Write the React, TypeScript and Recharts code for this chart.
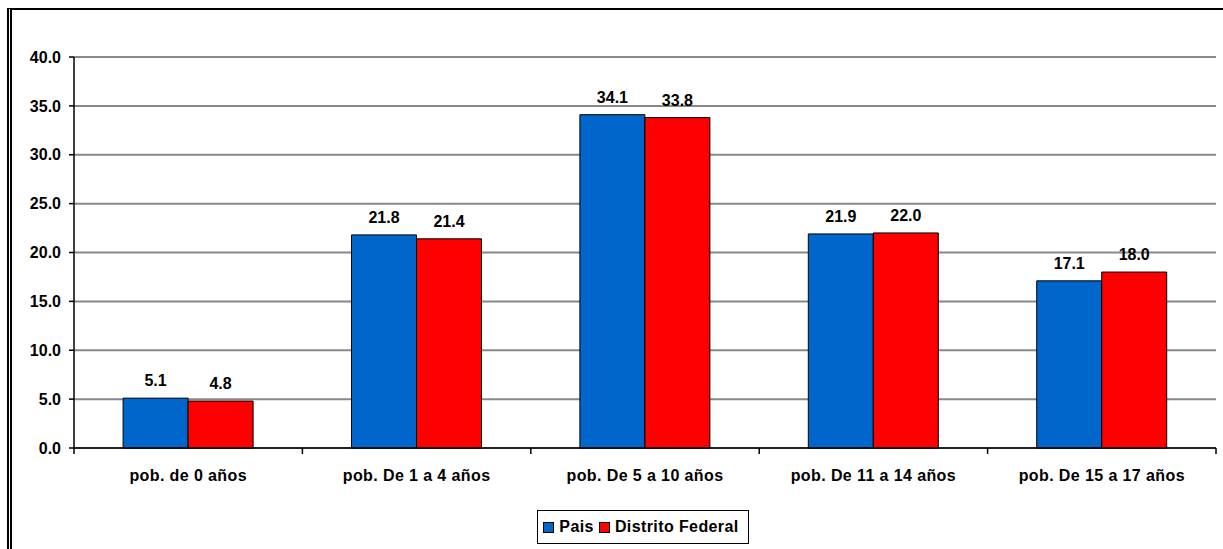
import { BarChart, Bar, XAxis, YAxis, CartesianGrid, Legend, LabelList } from 'recharts';

const categories = ['pob. de 0 años', 'pob. De 1 a 4 años', 'pob. De 5 a 10 años', 'pob. De 11 a 14 años', 'pob. De 15 a 17 años'];
const pais = [5.1, 21.8, 34.1, 21.9, 17.1];
const distritoFederal = [4.8, 21.4, 33.8, 22.0, 18.0];
const yTicks = [0, 5, 10, 15, 20, 25, 30, 35, 40];

const data = categories.map((name, i) => ({ name, pais: pais[i], df: distritoFederal[i] }));

const W = 1223;
const H = 549;
const margin = { top: 57, right: 7, bottom: 5, left: 0 };
const yAxisWidth = 74;
const font = 'Liberation Sans, Arial, sans-serif';

const bandWidth = (W - margin.left - margin.right - yAxisWidth) / categories.length;

function CategoryTick(props: any) {
  const { x, y, payload, index } = props;
  const left = x - bandWidth / 2;
  return (
    <g>
      <line x1={left} y1={y} x2={left} y2={y + 6} stroke="#000" strokeWidth={1.5} />
      {index === categories.length - 1 && (
        <line x1={left + bandWidth} y1={y} x2={left + bandWidth} y2={y + 6} stroke="#000" strokeWidth={1.5} />
      )}
      <text x={x} y={y + 33} textAnchor="middle" fontFamily={font} fontWeight="bold" fontSize={16} letterSpacing={0.4} fill="#000">
        {payload.value}
      </text>
    </g>
  );
}

function LegendBox() {
  const item = (color: string, label: string) => (
    <span style={{ display: 'inline-flex', alignItems: 'center', marginRight: 5 }}>
      <span style={{ width: 9, height: 9, background: color, border: '1px solid #000', marginRight: 5 }} />
      {label}
    </span>
  );
  return (
    <div style={{ display: 'flex', justifyContent: 'center', paddingLeft: yAxisWidth - 4 }}>
      <div
        style={{
          border: '1.5px solid #000',
          height: 34,
          padding: '0 4px 0 5px',
          display: 'flex',
          alignItems: 'center',
          fontFamily: font,
          fontWeight: 'bold',
          fontSize: 16,
          letterSpacing: 0.4,
          color: '#000',
          boxSizing: 'border-box',
        }}
      >
        {item('#0066CC', 'Pais')}
        {item('#FF0000', 'Distrito Federal')}
      </div>
    </div>
  );
}

export default function App() {
  return (
    <div style={{ position: 'absolute', left: 0, top: 0, width: W, height: H, background: '#fff', overflow: 'hidden' }}>
      <div
        style={{
          position: 'absolute',
          left: 7,
          top: 8,
          width: W,
          height: H,
          borderTop: '2px solid #000',
          borderLeft: '5px double #000',
        }}
      />
      <BarChart width={W} height={H} data={data} margin={margin} barCategoryGap="21.5%" barGap={0}>
        <CartesianGrid horizontal vertical={false} stroke="#888" strokeWidth={2} />
        <XAxis
          dataKey="name"
          axisLine={{ stroke: '#000', strokeWidth: 1.5 }}
          tickLine={false}
          tickSize={0}
          tickMargin={0}
          height={62}
          interval={0}
          tick={<CategoryTick />}
        />
        <YAxis
          domain={[0, 40]}
          ticks={yTicks}
          width={yAxisWidth}
          axisLine={{ stroke: '#000', strokeWidth: 1.5 }}
          tickLine={{ stroke: '#000', strokeWidth: 1.5 }}
          tickSize={5}
          tickMargin={8}
          tickFormatter={(v: number) => v.toFixed(1)}
          tick={{ fill: '#000', fontFamily: font, fontWeight: 'bold', fontSize: 16 }}
        />
        <YAxis
          yAxisId="r"
          orientation="right"
          width={0}
          domain={[0, 40]}
          tick={false}
          tickLine={false}
          axisLine={{ stroke: '#888', strokeWidth: 2 }}
        />
        <Legend verticalAlign="bottom" content={<LegendBox />} />
        <Bar dataKey="pais" name="Pais" fill="#0066CC" stroke="#000" strokeWidth={1} isAnimationActive={false}>
          <LabelList
            dataKey="pais"
            position="top"
            offset={12}
            formatter={(v: any) => Number(v).toFixed(1)}
            style={{ fill: '#000', fontFamily: font, fontWeight: 'bold', fontSize: 16 }}
          />
        </Bar>
        <Bar dataKey="df" name="Distrito Federal" fill="#FF0000" stroke="#000" strokeWidth={1} isAnimationActive={false}>
          <LabelList
            dataKey="df"
            position="top"
            offset={12}
            formatter={(v: any) => Number(v).toFixed(1)}
            style={{ fill: '#000', fontFamily: font, fontWeight: 'bold', fontSize: 16 }}
          />
        </Bar>
      </BarChart>
    </div>
  );
}
